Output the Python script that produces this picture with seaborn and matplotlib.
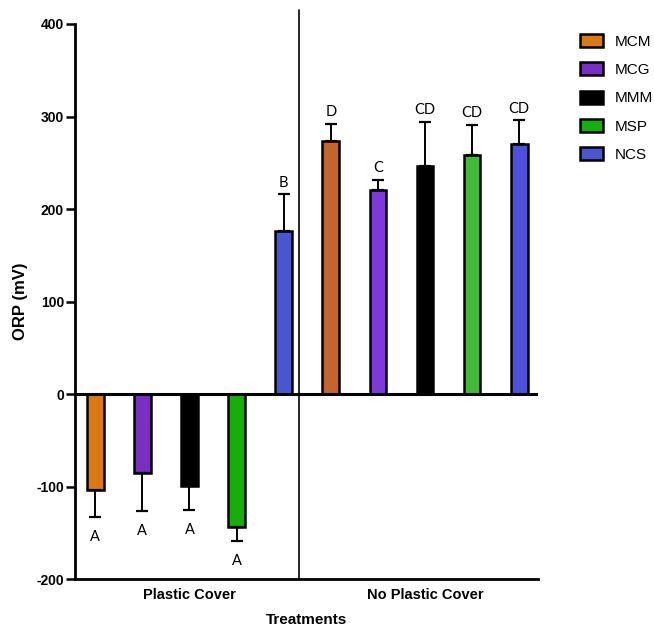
import pandas as pd
import seaborn as sns
import matplotlib.pyplot as plt
from matplotlib.patches import Patch

# data
groups = ['Plastic Cover', 'No Plastic Cover']
treatments = ['MCM', 'MCG', 'MMM', 'MSP', 'NCS']

plastic_mean = [-103, -85, -99, -143, 176]
plastic_err = [30, 41, 26, 15, 40]
plastic_letters = ['A', 'A', 'A', 'A', 'B']

no_plastic_mean = [274, 221, 247, 258, 270]
no_plastic_err = [18, 11, 47, 33, 26]
no_plastic_letters = ['D', 'C', 'CD', 'CD', 'CD']

legend_colors = ['#D97A16', '#7A2EC2', '#000000', '#17AD0A', '#4A56CF']
no_plastic_colors = ['#C4652F', '#7E3AD8', '#000000', '#45B83A', '#4D50D8']

# **************************************************************************

sns.set_style('white')
plt.rcParams['font.family'] = ['Liberation Sans', 'DejaVu Sans']
plt.rcParams['axes.unicode_minus'] = False
plt.rcParams['text.color'] = 'black'
plt.rcParams['axes.labelcolor'] = 'black'
plt.rcParams['xtick.color'] = 'black'
plt.rcParams['ytick.color'] = 'black'

df = pd.DataFrame({
    'Group': [groups[0]] * 5 + [groups[1]] * 5,
    'Treatment': treatments * 2,
    'ORP': plastic_mean + no_plastic_mean,
})

fig = plt.figure(figsize=(6.54, 6.26), dpi=100)
ax = fig.add_axes([0.1147, 0.0743, 0.708, 0.8874])

sns.barplot(data=df, x='Group', y='ORP', hue='Treatment', order=groups,
            hue_order=treatments, palette=legend_colors, saturation=1,
            width=1.0, gap=0.645, errorbar=None, edgecolor='black',
            linewidth=1.8, legend=False, ax=ax)

means = {groups[0]: plastic_mean, groups[1]: no_plastic_mean}
errs = {groups[0]: plastic_err, groups[1]: no_plastic_err}
letters = {groups[0]: plastic_letters, groups[1]: no_plastic_letters}

bar_containers = list(ax.containers)
for i, container in enumerate(bar_containers):
    for j, bar in enumerate(container.patches):
        g = groups[j]
        x = bar.get_x() + bar.get_width() / 2
        m = means[g][i]
        e = errs[g][i]
        if g == groups[1]:
            bar.set_facecolor(no_plastic_colors[i])
        if m >= 0:
            ax.errorbar(x, m, yerr=[[0], [e]], fmt='none', ecolor='black',
                        elinewidth=1.4, capsize=4.5, capthick=1.6, zorder=1)
            ax.text(x, m + e + 5, letters[g][i], ha='center', va='bottom',
                    fontsize=10.5, family=['Lato', 'DejaVu Sans'])
        else:
            ax.errorbar(x, m, yerr=[[e], [0]], fmt='none', ecolor='black',
                        elinewidth=1.4, capsize=4.5, capthick=1.6, zorder=1)
            ax.text(x, m - e - 14, letters[g][i], ha='center', va='top',
                    fontsize=10.5, family=['Lato', 'DejaVu Sans'])

ax.axhline(0, color='black', lw=2.2, zorder=3)
ax.axvline(0.465, ymin=0, ymax=1.025, color='black', lw=1.2, clip_on=False)

ax.set_ylim(-200, 400)
ax.set_xlim(-0.486, 1.48)
ax.set_yticks([-200, -100, 0, 100, 200, 300, 400])

for s in ['top', 'right']:
    ax.spines[s].set_visible(False)
for s in ['left', 'bottom']:
    ax.spines[s].set_linewidth(2.0)
    ax.spines[s].set_color('black')

ax.tick_params(axis='y', direction='out', length=6.5, width=1.8, left=True,
               labelsize=10, pad=1.5)
ax.tick_params(axis='x', length=0, labelsize=10.5, pad=6)
for lab in ax.get_yticklabels() + ax.get_xticklabels():
    lab.set_fontweight('bold')

ax.set_xlabel('Treatments', fontsize=11, fontweight='bold', labelpad=8)
ax.set_ylabel('ORP (mV)', fontsize=12, fontweight='bold', labelpad=6)

handles = [Patch(facecolor=c, edgecolor='black', linewidth=1.8) for c in legend_colors]
ax.legend(handles, treatments, loc='upper left', bbox_to_anchor=(1.09, 0.982),
          frameon=False, fontsize=11, handlelength=1.55, handleheight=0.95,
          labelspacing=0.88, borderpad=0, borderaxespad=0, handletextpad=0.75)

plt.savefig('out.png', dpi=100)
